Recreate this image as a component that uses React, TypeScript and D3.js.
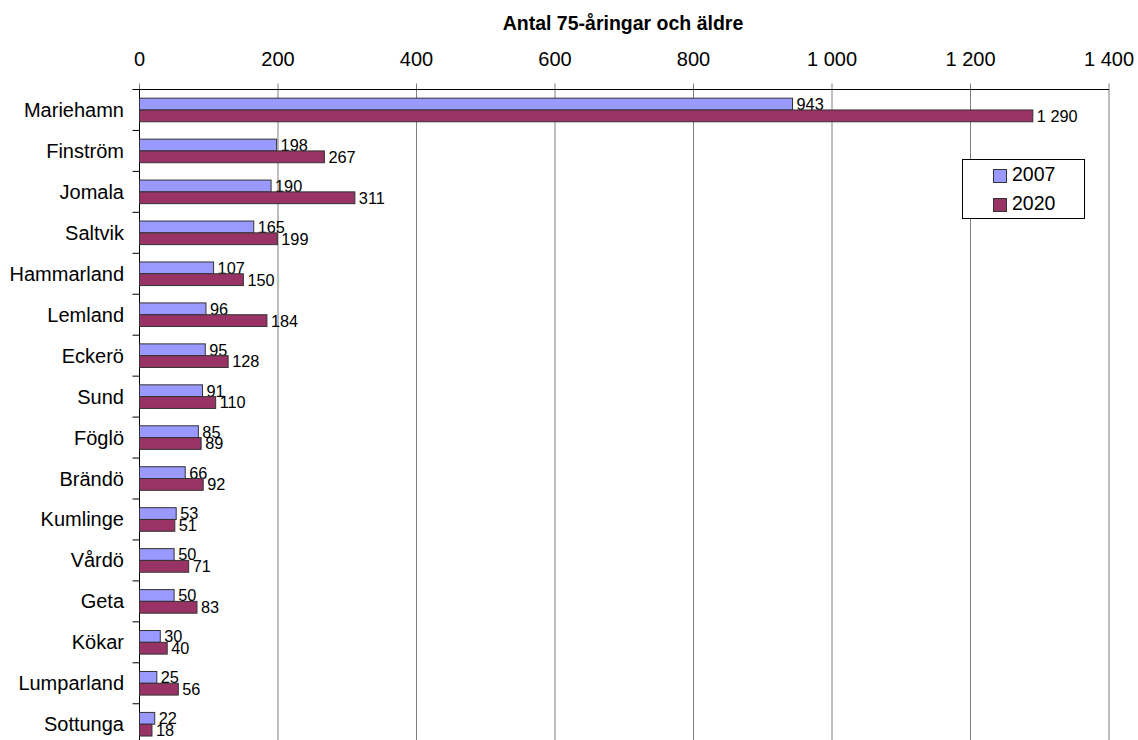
import { useEffect } from "react";
import * as d3 from "d3";

const municipalities = [
  "Mariehamn", "Finström", "Jomala", "Saltvik", "Hammarland", "Lemland",
  "Eckerö", "Sund", "Föglö", "Brändö", "Kumlinge", "Vårdö", "Geta",
  "Kökar", "Lumparland", "Sottunga",
];
const values2007 = [943, 198, 190, 165, 107, 96, 95, 91, 85, 66, 53, 50, 50, 30, 25, 22];
const values2020 = [1290, 267, 311, 199, 150, 184, 128, 110, 89, 92, 51, 71, 83, 40, 56, 18];
const seriesNames = ["2007", "2020"];
const xTicks = [0, 200, 400, 600, 800, 1000, 1200, 1400];
const title = "Antal 75-åringar och äldre";

const colors = ["#9999FF", "#993366"];
const font = "'Liberation Sans', Arial, sans-serif";

// swedish style: space as thousands separator
const fmt = (v: number) => d3.format(",")(v).replace(/,/g, " ");

export default function App() {
  useEffect(() => {
    document.body.style.margin = "0";
  }, []);

  const W = 1138;
  const H = 740;
  const left = 139.5;
  const right = 1109;
  const top = 89.5;
  const band = 40.95;

  const x = d3.scaleLinear().domain([0, 1400]).range([left, right]);
  const y = d3
    .scaleBand<string>()
    .domain(municipalities)
    .range([top, top + band * municipalities.length]);
  const barH = 11.8;

  const rows = municipalities.map((m, i) => ({
    name: m,
    vals: [values2007[i], values2020[i]],
  }));

  return (
    <svg width={W} height={H} style={{ display: "block", fontFamily: font }}>
      <rect width={W} height={H} fill="#fff" />
      <text x={623} y={30} textAnchor="middle" fontSize={19.5} fontWeight="bold">
        {title}
      </text>

      {/* grid + top ticks */}
      {xTicks.map((t) => (
        <g key={t}>
          <line x1={x(t)} x2={x(t)} y1={top - 6} y2={H} stroke="#7f7f7f" strokeWidth={1} />
          <text x={x(t)} y={66} textAnchor="middle" fontSize={20}>
            {fmt(t)}
          </text>
        </g>
      ))}

      {/* axes */}
      <line x1={left - 7} x2={right} y1={top} y2={top} stroke="#000" strokeWidth={1} />
      <line x1={left} x2={left} y1={top} y2={H} stroke="#000" strokeWidth={1} />
      {municipalities.map((m) => (
        <line
          key={m}
          x1={left - 7}
          x2={left}
          y1={(y(m) ?? 0) + band}
          y2={(y(m) ?? 0) + band}
          stroke="#000"
        />
      ))}

      {rows.map((r) => {
        const cy = (y(r.name) ?? 0) + band / 2;
        return (
          <g key={r.name}>
            <text x={124} y={cy + 7} textAnchor="end" fontSize={20}>
              {r.name}
            </text>
            {r.vals.map((v, k) => {
              const by = cy - barH + k * barH;
              return (
                <g key={k}>
                  <rect
                    x={x(0)}
                    y={by}
                    width={x(v) - x(0)}
                    height={barH}
                    fill={colors[k]}
                    stroke="#333"
                    strokeWidth={1}
                  />
                  <text x={x(v) + 4} y={by + barH} fontSize={16.3}>
                    {fmt(v)}
                  </text>
                </g>
              );
            })}
          </g>
        );
      })}

      {/* legend */}
      <rect x={962.5} y={159.5} width={122} height={59} fill="#fff" stroke="#000" />
      {seriesNames.map((s, k) => (
        <g key={s}>
          <rect
            x={993.5}
            y={169.5 + k * 29}
            width={13}
            height={13}
            fill={colors[k]}
            stroke="#333"
          />
          <text x={1012} y={181 + k * 29} fontSize={19.5}>
            {s}
          </text>
        </g>
      ))}
    </svg>
  );
}
